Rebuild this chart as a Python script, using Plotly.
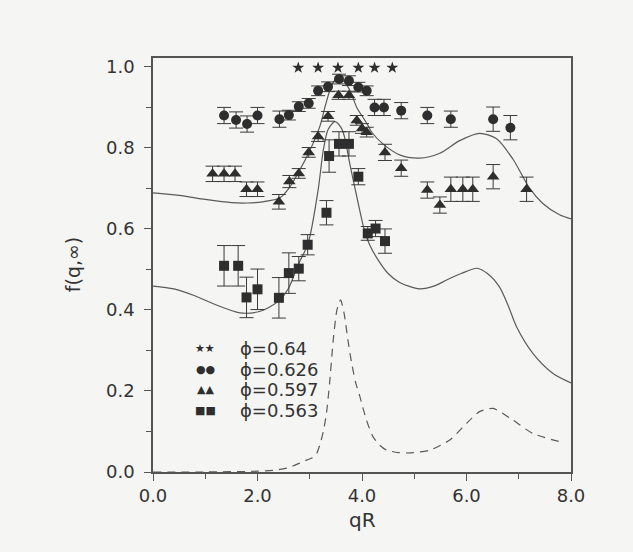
import plotly.graph_objects as go

# ---- data ----
stars_x = [2.78, 3.16, 3.54, 3.93, 4.24, 4.58]
stars_y = [0.998, 0.998, 0.998, 0.998, 0.998, 0.998]

circles_x = [1.36, 1.59, 1.80, 2.00, 2.42, 2.60, 2.79, 2.98, 3.16, 3.35, 3.56,
             3.75, 3.93, 4.09, 4.24, 4.42, 4.75, 5.25, 5.70, 6.51, 6.84]
circles_y = [0.880, 0.869, 0.859, 0.880, 0.871, 0.881, 0.902, 0.910, 0.941, 0.951, 0.970,
             0.966, 0.950, 0.941, 0.900, 0.900, 0.892, 0.880, 0.871, 0.871, 0.850]
circles_err = [0.02, 0.02, 0.02, 0.02, 0.02, 0.012, 0.012, 0.012, 0.012, 0.012, 0.012,
               0.012, 0.012, 0.012, 0.02, 0.02, 0.02, 0.02, 0.02, 0.03, 0.03]

triangles_x = [1.14, 1.36, 1.57, 1.79, 2.00, 2.41, 2.61, 2.79, 2.98, 3.16, 3.35, 3.55,
               3.75, 3.90, 4.00, 4.09, 4.44, 4.75, 5.25, 5.49, 5.70, 5.93, 6.12, 6.51, 7.15]
triangles_y = [0.736, 0.736, 0.736, 0.698, 0.698, 0.667, 0.717, 0.737, 0.789, 0.828, 0.878, 0.930,
               0.930, 0.868, 0.848, 0.839, 0.789, 0.750, 0.696, 0.659, 0.698, 0.698, 0.698, 0.729, 0.698]
triangles_err = [0.019, 0.019, 0.019, 0.018, 0.018, 0.018, 0.015, 0.012, 0.012, 0.012, 0.012, 0.01,
                 0.01, 0.012, 0.012, 0.012, 0.02, 0.02, 0.02, 0.02, 0.03, 0.03, 0.03, 0.03, 0.03]

squares_x = [1.36, 1.63, 1.79, 2.00, 2.41, 2.60, 2.79, 2.96, 3.32, 3.37, 3.56, 3.75,
             3.93, 4.11, 4.26, 4.44]
squares_y = [0.509, 0.509, 0.431, 0.451, 0.430, 0.491, 0.502, 0.561, 0.640, 0.780, 0.810, 0.810,
             0.729, 0.589, 0.601, 0.570]
squares_err = [0.05, 0.05, 0.05, 0.05, 0.05, 0.05, 0.03, 0.025, 0.03, 0.04, 0.03, 0.03,
               0.02, 0.017, 0.02, 0.03]

upper_x = [0.0, 0.5, 1.0, 1.5, 1.8, 2.1, 2.43, 2.6, 2.81, 2.97, 3.19, 3.3, 3.42, 3.52, 3.64,
           3.77, 3.9, 4.09, 4.18, 4.4, 4.72, 5.1, 5.49, 5.87, 6.25, 6.57, 6.89, 7.21, 7.46,
           7.78, 8.0]
upper_y = [0.689, 0.683, 0.673, 0.665, 0.664, 0.667, 0.677, 0.700, 0.746, 0.785, 0.852, 0.905,
           0.955, 0.972, 0.966, 0.942, 0.900, 0.861, 0.840, 0.810, 0.783, 0.775, 0.787, 0.818,
           0.836, 0.823, 0.772, 0.700, 0.663, 0.635, 0.625]

lower_x = [0.0, 0.4, 0.8, 1.2, 1.66, 2.0, 2.2, 2.43, 2.6, 2.78, 2.97, 3.16, 3.26, 3.35, 3.48,
           3.6, 3.67, 3.76, 3.86, 4.05, 4.15, 4.31, 4.5, 4.72, 5.1, 5.4, 5.62, 5.9, 6.2, 6.4,
           6.63, 6.8, 6.96, 7.27, 7.65, 8.0]
lower_y = [0.459, 0.452, 0.435, 0.413, 0.393, 0.395, 0.405, 0.425, 0.455, 0.512, 0.565, 0.696,
           0.795, 0.845, 0.865, 0.850, 0.825, 0.765, 0.704, 0.595, 0.560, 0.523, 0.490, 0.468,
           0.452, 0.460, 0.474, 0.490, 0.503, 0.490, 0.457, 0.410, 0.358, 0.293, 0.244, 0.220]

dashed_x = [0.0, 1.0, 2.0, 2.37, 2.6, 2.81, 2.95, 3.05, 3.13, 3.2, 3.26, 3.32, 3.38, 3.45,
            3.52, 3.59, 3.66, 3.73, 3.8, 3.88, 3.96, 4.08, 4.21, 4.34, 4.47, 4.7, 4.91, 5.3,
            5.68, 6.0, 6.25, 6.51, 6.89, 7.27, 7.78]
dashed_y = [0.0, 0.0, 0.002, 0.005, 0.011, 0.022, 0.03, 0.035, 0.045, 0.07, 0.10, 0.145, 0.22,
            0.326, 0.40, 0.425, 0.39, 0.326, 0.27, 0.22, 0.186, 0.13, 0.087, 0.066, 0.054,
            0.048, 0.047, 0.054, 0.079, 0.12, 0.149, 0.157, 0.128, 0.095, 0.075]

legend_symbols = ["★★", "●●", "▲▲", "■■"]
legend_labels = ["ϕ=0.64", "ϕ=0.626", "ϕ=0.597", "ϕ=0.563"]
legend_rows_y = [0.306, 0.253, 0.203, 0.153]

# ---- styling ----
MK = "#2e2e2e"
LN = "#5a5a5a"
BG = "#f5f5f3"
FONT = "DejaVu Sans"

fig = go.Figure()

for cx, cy in [(upper_x, upper_y), (lower_x, lower_y)]:
    fig.add_trace(go.Scatter(x=cx, y=cy, mode="lines",
                             line=dict(color=LN, width=1.2, shape="spline", smoothing=0.8),
                             showlegend=False, hoverinfo="skip"))
fig.add_trace(go.Scatter(x=dashed_x, y=dashed_y, mode="lines",
                         line=dict(color=LN, width=1.2, dash="8px,6px", shape="spline",
                                   smoothing=0.6),
                         showlegend=False, hoverinfo="skip"))

def err(arr):
    return dict(type="data", array=arr, visible=True, color="#3a3a3a", thickness=1, width=7)

fig.add_trace(go.Scatter(x=circles_x, y=circles_y, mode="markers", error_y=err(circles_err),
                         marker=dict(symbol="circle", size=10, color=MK), showlegend=False))
fig.add_trace(go.Scatter(x=triangles_x, y=triangles_y, mode="markers", error_y=err(triangles_err),
                         marker=dict(symbol="triangle-up", size=11, color=MK), showlegend=False))
fig.add_trace(go.Scatter(x=squares_x, y=squares_y, mode="markers", error_y=err(squares_err),
                         marker=dict(symbol="square", size=10, color=MK), showlegend=False))
fig.add_trace(go.Scatter(x=stars_x, y=stars_y, mode="markers",
                         marker=dict(symbol="star", size=9, color=MK), showlegend=False))

annotations = []
for sym, lab, yy in zip(legend_symbols, legend_labels, legend_rows_y):
    annotations.append(dict(x=1.0, y=yy, xref="x", yref="y", text=sym, showarrow=False,
                            font=dict(family=FONT, size=11, color=MK), xanchor="center",
                            yanchor="middle"))
    annotations.append(dict(x=1.63, y=yy, xref="x", yref="y", text=lab, showarrow=False,
                            font=dict(family=FONT, size=18, color="#333"), xanchor="left",
                            yanchor="middle"))
annotations.append(dict(x=-0.191, y=0.5, xref="paper", yref="paper", text="f(q,∞)",
                        textangle=-90, showarrow=False,
                        font=dict(family=FONT, size=19, color="#333"),
                        xanchor="center", yanchor="middle"))
annotations.append(dict(x=0.5, y=-0.116, xref="paper", yref="paper", text="qR",
                        showarrow=False, font=dict(family=FONT, size=20, color="#333"),
                        xanchor="center", yanchor="middle"))

axis_common = dict(showgrid=False, zeroline=False, showline=True, linecolor="#555",
                   linewidth=1.5, mirror=True, ticks="outside", ticklen=7, tickwidth=1.2,
                   tickcolor="#555", tickfont=dict(family=FONT, size=18, color="#333"))

fig.update_layout(
    width=633, height=552,
    margin=dict(l=153, r=62, t=58, b=80),
    paper_bgcolor=BG, plot_bgcolor=BG,
    xaxis=dict(range=[0, 8], tickvals=[0, 2, 4, 6, 8],
               ticktext=["0.0", "2.0", "4.0", "6.0", "8.0"],
               minor=dict(tickvals=[1, 3, 5, 7], ticks="outside", ticklen=5,
                          tickcolor="#555"),
               **axis_common),
    yaxis=dict(range=[0, 1.022], tickvals=[0, 0.2, 0.4, 0.6, 0.8, 1.0],
               ticktext=["0.0", "0.2", "0.4", "0.6", "0.8", "1.0"],
               minor=dict(tickvals=[0.1, 0.3, 0.5, 0.7, 0.9], ticks="outside", ticklen=5,
                          tickcolor="#555"),
               ticklabelstandoff=6,
               **axis_common),
    annotations=annotations,
)

fig.write_html("out.html")
